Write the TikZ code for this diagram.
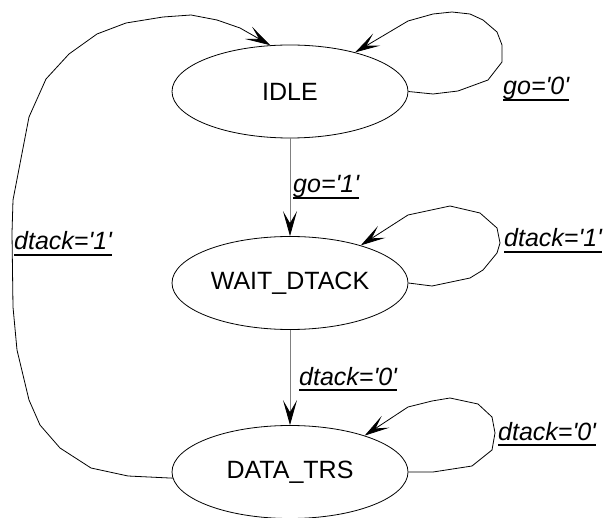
\documentclass[tikz,border=0pt]{standalone}
\usepackage{fontspec}
\setmainfont{Liberation Sans}
\usetikzlibrary{arrows.meta,shapes.geometric}
\begin{document}
\begin{tikzpicture}[x=1pt,y=-1pt,
  state/.style={draw, ellipse, minimum width=236pt, minimum height=93pt, inner sep=0pt, line width=0.8pt, font=\fontsize{25}{30}\selectfont},
  lbl/.style={inner sep=0pt, anchor=base west, font=\fontsize{25}{30}\selectfont\itshape},
  ulst/.style={line width=2.4pt},
  curve/.style={line width=0.8pt, line join=round},
  tip/.style={-{Stealth[length=25pt,width=14pt,inset=12pt,color=black]}},
  vline/.style={draw=gray, line width=0.8pt}
]
\useasboundingbox (0,0) rectangle (607,518);

\node[state] (idle) at (290,91.5) {IDLE};
\node[state] (wait) at (290,283) {WAIT\_DTACK};
\node[state] (data) at (290,472) {DATA\_TRS};

\draw[vline, tip] (idle.south) -- (wait.north);
\draw[vline, tip] (wait.south) -- (data.north);

\draw[curve, tip] (idle.east) -- (433,94) -- (458,91) -- (488,80) -- (502,62) -- (502,45) -- (497,32) -- (483,20) -- (470,14) -- (452,12) -- (433,14) -- (408,21) -- (idle.31);
\draw[curve, tip] (wait.east) -- (432,286) -- (470,278) -- (483,270) -- (497,253) -- (500,243) -- (497,228) -- (480,213) -- (450,206) -- (408,215) -- (wait.28);
\draw[curve, tip] (data.east) -- (433,472) -- (472,466) -- (492,450) -- (495,433) -- (492,417) -- (478,404) -- (450,398) -- (432,401) -- (408,407) -- (data.26);
\draw[curve, tip] (data.183) -- (128,476) -- (91,468) -- (60,448) -- (40,425) -- (29,400) -- (17,350) -- (13,307) -- (12,233) -- (13,200) -- (29,117) -- (46,79) -- (69,54) -- (97,34) -- (126,23) -- (163,17) -- (191,15) -- (217,20) -- (240,28) -- (idle.113);

\node[lbl] (l1) at (503,95) {go=\textquotesingle 0\textquotesingle};
\node[lbl] (l2) at (293,193) {go=\textquotesingle 1\textquotesingle};
\node[lbl] (l3) at (14,250) {dtack=\textquotesingle 1\textquotesingle};
\node[lbl] (l4) at (504,247) {dtack=\textquotesingle 1\textquotesingle};
\node[lbl] (l5) at (299,385) {dtack=\textquotesingle 0\textquotesingle};
\node[lbl] (l6) at (498,440) {dtack=\textquotesingle 0\textquotesingle};

\foreach \l in {l1,l2,l3,l4,l5,l6}
  \draw[ulst] ([yshift=-5pt]\l.base west) -- ([yshift=-5pt]\l.base east);
\end{tikzpicture}
\end{document}
